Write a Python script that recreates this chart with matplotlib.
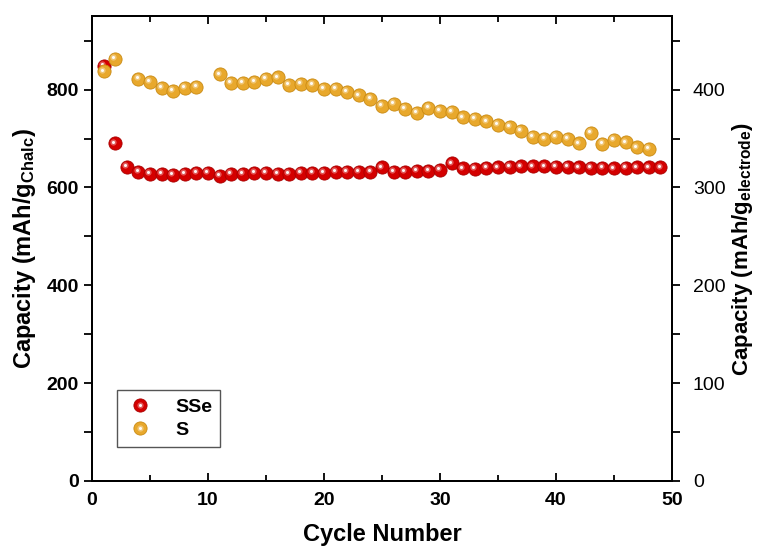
import matplotlib
matplotlib.use('Agg')
import matplotlib.pyplot as plt
from matplotlib.ticker import MultipleLocator
from matplotlib.transforms import offset_copy
from matplotlib.legend_handler import HandlerTuple

plt.rcParams['font.family'] = ['Liberation Sans', 'DejaVu Sans']
plt.rcParams['mathtext.fontset'] = 'custom'
plt.rcParams['mathtext.rm'] = 'Liberation Sans:bold'
plt.rcParams['mathtext.bf'] = 'Liberation Sans:bold'
plt.rcParams['mathtext.default'] = 'bf'

# cycle data
sse_cycles = list(range(1, 50))
sse_capacity = [848, 690, 642, 631, 628, 627, 625, 628, 630, 630,
                623, 628, 627, 629, 629, 628, 627, 629, 629, 630,
                631, 631, 631, 631, 641, 631, 631, 633, 634, 636,
                649, 639, 638, 640, 641, 642, 643, 643, 643, 642,
                642, 641, 640, 640, 639, 640, 641, 641, 641]

s_cycles = [1, 2, 4, 5, 6, 7, 8, 9, 11, 12, 13, 14, 15, 16, 17, 18, 19, 20,
            21, 22, 23, 24, 25, 26, 27, 28, 29, 30, 31, 32, 33, 34, 35, 36,
            37, 38, 39, 40, 41, 42, 43, 44, 45, 46, 47, 48]
s_capacity = [837, 862, 821, 815, 803, 798, 803, 806, 831, 813, 813, 815,
              822, 825, 810, 811, 810, 802, 801, 795, 788, 781, 767, 771,
              760, 752, 762, 756, 754, 743, 740, 735, 728, 724, 715, 704,
              699, 704, 699, 690, 711, 689, 697, 692, 682, 679]

series_labels = ['SSe', 'S']
series_colors = ['#d40000', '#e8a82c']
edge_colors = ['#a80000', '#c98a12']

fig = plt.figure(figsize=(7.58, 5.58), dpi=100)
ax = fig.add_axes([0.1214, 0.138, 0.7651, 0.833])
# right axis is the same capacity per gram of electrode (half of left)
ax2 = ax.twinx()

# glossy sphere look: base ball + soft inner + white highlight up-left
hl = offset_copy(ax.transData, fig=fig, x=-1.3, y=1.3, units='points')

def sphere(x, y, color, edge):
    base, = ax.plot(x, y, 'o', ms=9.5, color=color, mec=edge, mew=0.6,
                    linestyle='none')
    glow, = ax.plot(x, y, 'o', ms=4.5, color='white', alpha=0.35, mew=0,
                    linestyle='none', transform=hl)
    dot, = ax.plot(x, y, 'o', ms=2.2, color='white', alpha=0.95, mew=0,
                   linestyle='none', transform=hl)
    return (base, glow, dot)

h_sse = sphere(sse_cycles, sse_capacity, series_colors[0], edge_colors[0])
h_s = sphere(s_cycles, s_capacity, series_colors[1], edge_colors[1])
# red first ball sits behind the yellow one at cycle 1
for artist in h_s:
    artist.set_zorder(3)

ax.set_xlim(0, 50)
ax.set_ylim(0, 950)
ax2.set_ylim(0, 475)

for a in [ax, ax2]:
    for side in ['left', 'right', 'top', 'bottom']:
        a.spines[side].set_linewidth(1.4)

ax.xaxis.set_major_locator(MultipleLocator(10))
ax.xaxis.set_minor_locator(MultipleLocator(5))
ax.yaxis.set_major_locator(MultipleLocator(200))
ax.yaxis.set_minor_locator(MultipleLocator(100))
ax.tick_params(axis='x', which='major', direction='in', length=6, width=1.3,
               labelsize=14, pad=8, top=True)
ax.tick_params(axis='x', which='minor', direction='in', length=4, width=1.3,
               top=True)
ax.tick_params(axis='y', which='both', direction='out', length=6, width=1.3,
               labelsize=14)
for lab in ax.get_xticklabels() + ax.get_yticklabels():
    lab.set_fontweight('bold')

ax2.yaxis.set_major_locator(MultipleLocator(100))
ax2.yaxis.set_minor_locator(MultipleLocator(50))
ax2.tick_params(which='both', direction='out', length=6, width=1.3,
                labelsize=14, pad=9)

ax.set_xlabel('Cycle Number', fontsize=17, fontweight='bold', labelpad=10)
ax.set_ylabel(r'Capacity (mAh/g$_{\mathbf{Chalc}}$)', fontsize=17,
              fontweight='bold', labelpad=6)
ax2.set_ylabel(r'Capacity (mAh/g$_{\mathbf{electrode}}$)', fontsize=16,
               fontweight='bold', labelpad=3)

leg = ax2.legend([h_sse, h_s], series_labels, handler_map={tuple: HandlerTuple(ndivide=1)},
                 loc='lower left', bbox_to_anchor=(0.043, 0.073), borderaxespad=0,
                 fancybox=False, edgecolor='#555555', framealpha=1,
                 handletextpad=1.0, borderpad=0.4, labelspacing=0.3,
                 handlelength=1.6, prop={'size': 14, 'weight': 'bold'})
leg.get_frame().set_linewidth(1.0)

plt.savefig('out.png', dpi=100)
